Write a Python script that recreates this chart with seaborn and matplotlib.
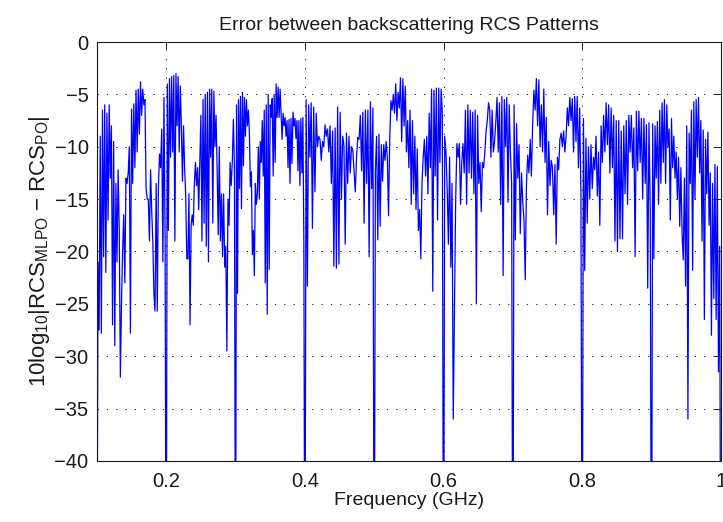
import numpy as np
import pandas as pd
import matplotlib
matplotlib.use("Agg")
import matplotlib.pyplot as plt
import seaborn as sns

# Error level (dB) sampled across each 0.1 GHz band; each band starts at a null.
band_edges = [0.1, 0.2, 0.3, 0.4, 0.5, 0.6, 0.7, 0.8, 0.9, 1.0]

err_01_02 = [-60, -21, -27.5, -9, -27.8, -6.5, -20.5, -6, -22, -6.8, -17, -6, -13, -8, -27, -9.5,
             -29, -13.5, -21, -12.2, -18, -32, -25, -20, -16.5, -23, -13, -13.5, -12.5, -10, -27.8,
             -6.4, -13.5, -5.9, -12, -4.6, -10.5, -4.5, -8.8, -3.8, -7, -4.5, -6, -5.5, -14, -15,
             -15, -19, -12.2, -16, -19, -24, -25.7, -13.5, -25.7, -14, -10.7, -12, -8.3, -21,
             -5.3, -18.7]
err_02_03 = [-60, -4, -18, -3.5, -11, -3.3, -10.5, -3.2, -19, -3, -8, -3.3, -10.5, -4.2, -8, -13.3,
             -8, -12, -14.7, -20.7, -20.7, -14.5, -27, -17.5, -16.5, -17.5, -13.5, -11.5, -13.7,
             -12, -16, -11.5, -7, -19, -5.5, -17.3, -5, -19.5, -4.8, -21, -4.5, -11, -4.5, -17.3,
             -4.7, -10, -7, -12, -18.4, -10, -19, -14.5, -20.5, -14.5, -21.5, -19.5, -29.5, -15,
             -17.5, -11.5, -13.7, -11.5, -7.4, -12]
err_03_04 = [-60, -6, -24, -5.5, -14, -5.2, -15.9, -4.8, -11.8, -5.3, -9, -5.5, -8, -6.5, -8.7,
             -13.8, -12.4, -20.3, -18, -22.3, -13.5, -15.5, -14.5, -10, -15, -9.5, -11.5, -7.5,
             -12.8, -6.5, -23, -6, -26, -5, -21.7, -6, -7.2, -5.4, -12.8, -5, -11.5, -4, -7.2,
             -4.3, -7.2, -4.5, -7, -9.3, -6.8, -8, -7.2, -9, -7.5, -12, -7.4, -13.5, -7.3, -11.6,
             -6.7, -8, -7.3, -9.2, -7.5, -12.3, -7.5, -13.7, -7.3, -12.5, -7.2, -19.3]
err_04_05 = [-60, -5.5, -23.3, -6, -11, -5.8, -17.8, -6.2, -14.3, -6.8, -10, -9, -9.3, -11.3,
             -9.5, -10, -7.9, -9, -8.3, -10.5, -8, -13.5, -8.5, -21.4, -8.2, -21.6, -6.2, -21.2,
             -6.7, -15, -9, -9.9, -19.3, -8.7, -13.5, -9, -12.5, -10, -10.3, -12.3, -14.3, -11,
             -9.1, -9.3, -7, -12.3, -6.7, -17.3, -6.5, -13.5, -6.5, -20.5, -5.7, -14, -6.3]
err_05_06 = [-60, -12.3, -9, -18.9, -8.8, -17.6, -9.8, -13.3, -9.8, -11.3, -9.5, -11, -16.6,
             -9.3, -5.6, -6.5, -5, -6.8, -4, -7.5, -4.8, -6.3, -3.4, -9.5, -3.5, -8, -4.2, -10.5,
             -7.5, -12, -6.5, -15.5, -7.5, -14.5, -9, -16, -10.2, -18, -16, -20.7, -13.5, -11,
             -9.3, -12.8, -9, -14.5, -6.8, -12, -4.5, -23.8, -4.6, -12.8, -4.4, -17, -4.4, -11.5,
             -4.5, -6.8]
err_06_07 = [-60, -9, -10.5, -14, -19.3, -11, -21.5, -13.5, -36, -25, -15, -9.7, -11, -9.7,
             -15.5, -11.5, -9.7, -12.5, -6.5, -15.5, -6, -12.5, -6.5, -13, -6.7, -14.5, -6.5, -25,
             -7, -13.5, -11.5, -16.2, -11.5, -12, -10.5, -8.5, -7.5, -5.8, -6.5, -11, -6.5, -10.5,
             -9.5, -7.6, -5.3, -10.5, -5.8, -15.5, -5.2, -22.3, -5.5, -10, -5.3, -15.3, -6, -10.5,
             -13.5]
err_07_08 = [-60, -6, -18.9, -7.8, -13, -9.8, -18.3, -12.5, -15.3, -17, -22.7, -13.5, -10.8,
             -12.5, -9.3, -12.8, -7.8, -4.6, -6.5, -3.5, -8, -3.6, -10, -6, -10.5, -4.5, -11.5,
             -7.2, -16.5, -9.5, -13.7, -11.3, -12, -16.5, -11.7, -19.3, -11, -12.2, -9.3, -8.7,
             -10, -8.5, -10.5, -9, -6.3, -8, -5.3, -7.5, -5.4, -10.5, -5.2, -9.5, -5.2, -12, -6.3,
             -14.5]
err_08_09 = [-60, -7.3, -21.8, -9.2, -17.3, -10, -15, -9.8, -14, -11, -12.2, -9, -14.7, -10.5,
             -17.5, -8, -11.5, -7, -10.5, -5.8, -9.8, -6, -12.5, -6.3, -12, -7, -19, -7.5, -20,
             -7.5, -18.8, -8.5, -18.8, -8, -14.5, -7.5, -15.5, -7, -10.5, -7, -12, -8.2, -20.5,
             -6.6, -12.3, -6.6, -11.5, -7.3, -15, -7.3, -13.5, -7.9, -23.5, -7.7, -15.8]
err_09_10 = [-60, -7.8, -20.7, -8, -13, -7.6, -15.5, -6.5, -13.5, -5.8, -11.5, -5.5, -13.5, -6,
             -10, -8.3, -17, -7.3, -12, -9, -13, -10.5, -15, -11, -17.6, -12, -18.3, -20.8, -13,
             -23.3, -8, -36, -8.7, -13.5, -6.5, -21.8, -5.7, -15, -5.5, -11, -5.3, -12.5, -7.5,
             -19, -8.4, -26.5, -9.3, -14.5, -8.6, -17.5, -12.5, -28, -13.5, -24.5, -11.7, -26.5,
             -11.9, -31.5, -19.5, -60]

bands = [err_01_02, err_02_03, err_03_04, err_04_05, err_05_06,
         err_06_07, err_07_08, err_08_09, err_09_10]

xticks = [0.2, 0.4, 0.6, 0.8, 1.0]
xticklabels = ["0.2", "0.4", "0.6", "0.8", "1"]
yticks = [0, -5, -10, -15, -20, -25, -30, -35, -40]

# Frequency grid: samples spread evenly inside each band
freqs, errs = [], []
for i, vals in enumerate(bands):
    last = i == len(bands) - 1
    f = np.linspace(band_edges[i], band_edges[i + 1], len(vals), endpoint=last)
    freqs.extend(f)
    errs.extend(vals)
df = pd.DataFrame({"freq": freqs, "err": errs})

sns.set_theme(style="white")
plt.rcParams["font.family"] = ["Liberation Sans", "DejaVu Sans"]
plt.rcParams["mathtext.fontset"] = "custom"
plt.rcParams["mathtext.rm"] = "Liberation Sans"
plt.rcParams["mathtext.default"] = "regular"

fig = plt.figure(figsize=(7.23, 5.22), dpi=100)
ax = fig.add_axes([0.134, 0.117, 0.863, 0.8025])

sns.lineplot(data=df, x="freq", y="err", ax=ax, color="#0000ff", linewidth=0.9,
             estimator=None, sort=False)

ax.set_xlim(0.1, 1.0)
ax.set_ylim(-40, 0)
ax.set_xticks(xticks)
ax.set_xticklabels(xticklabels)
ax.set_yticks(yticks)
ax.set_yticklabels([f"{t}".replace("-", "\u2212") for t in yticks])

ax.grid(True, color="k", linestyle=(0, (1.3, 8.3)), linewidth=0.7)
for s in ax.spines.values():
    s.set_color("k")
    s.set_linewidth(0.8)
ax.tick_params(direction="in", length=5, width=0.7, top=True, right=True,
               labelsize=14.5, colors="k")
ax.tick_params(axis="x", pad=8)
ax.tick_params(axis="y", pad=6)

ax.set_title("Error between backscattering RCS Patterns", fontsize=14, color="k", pad=9)
ax.set_xlabel("Frequency (GHz)", fontsize=14, color="k", labelpad=1)
ax.set_ylabel("10log$_{10}$|RCS$_{MLPO}$ \u2212 RCS$_{PO}$|", fontsize=16, color="k", labelpad=2)

fig.savefig("out.png", dpi=100)
